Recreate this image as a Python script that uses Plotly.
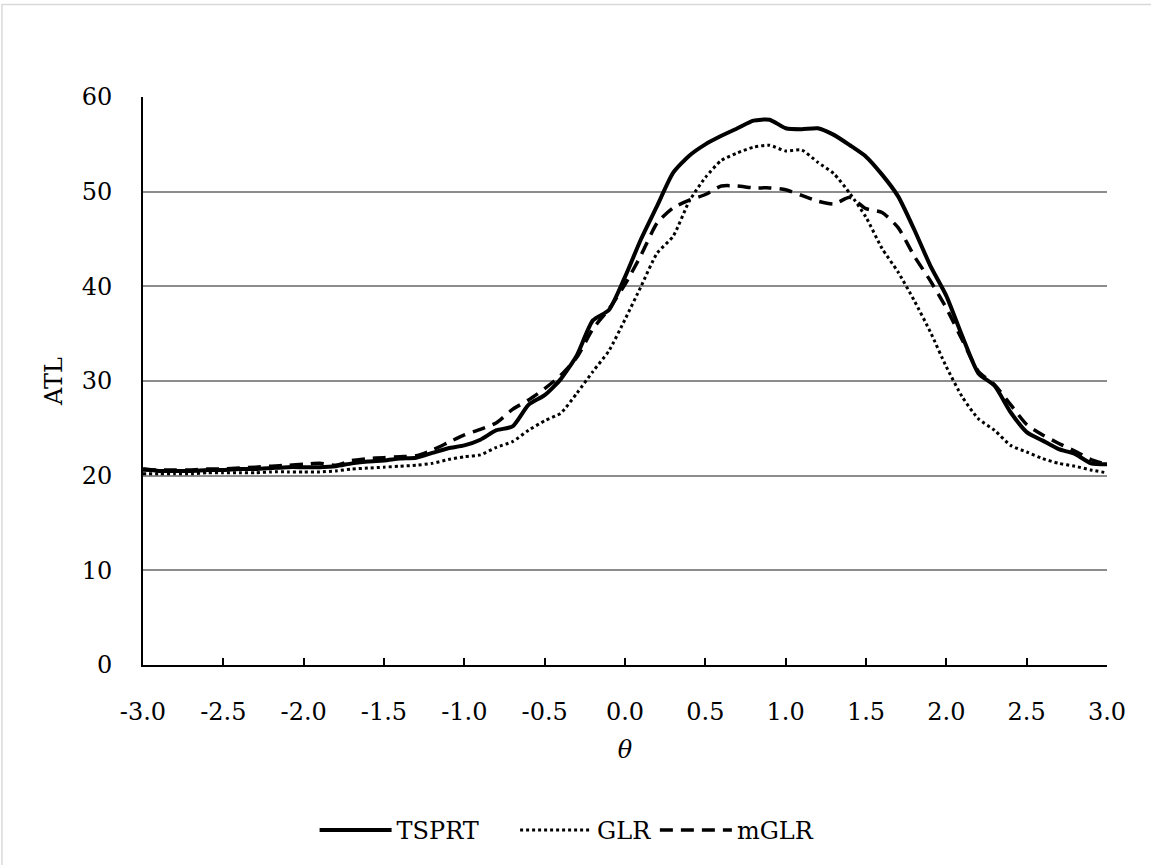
import plotly.graph_objects as go

theta = [round(-3.0 + 0.1 * i, 1) for i in range(61)]

tsprt = [20.7, 20.5, 20.5, 20.5, 20.6, 20.6, 20.7, 20.7, 20.8, 20.9,
         20.9, 20.9, 21.0, 21.3, 21.5, 21.6, 21.8, 21.9, 22.4, 22.9,
         23.2, 23.8, 24.8, 25.2, 27.5, 28.5, 30.2, 32.7, 36.4, 37.5,
         41.0, 45.0, 48.5, 52.0, 53.8, 55.0, 55.9, 56.7, 57.5, 57.6,
         56.7, 56.6, 56.7, 56.0, 54.9, 53.7, 51.8, 49.5, 46.0, 42.2,
         39.0, 34.7, 30.8, 29.5, 26.7, 24.6, 23.7, 22.8, 22.3, 21.3,
         21.2]

glr = [20.2, 20.2, 20.2, 20.2, 20.3, 20.3, 20.3, 20.3, 20.4, 20.4,
       20.4, 20.4, 20.5, 20.7, 20.8, 20.9, 21.0, 21.1, 21.3, 21.7,
       22.0, 22.2, 23.0, 23.6, 24.8, 25.8, 26.6, 28.7, 31.0, 33.2,
       36.5, 40.0, 43.5, 45.3, 49.0, 51.5, 53.3, 54.1, 54.7, 54.9,
       54.3, 54.4, 53.1, 51.9, 49.8, 47.3, 44.0, 41.5, 38.5, 35.2,
       31.5, 28.3, 26.0, 24.8, 23.2, 22.5, 21.8, 21.3, 21.0, 20.6,
       20.3]

mglr = [20.6, 20.6, 20.6, 20.6, 20.7, 20.7, 20.8, 20.9, 21.0, 21.1,
        21.2, 21.3, 21.1, 21.6, 21.8, 21.9, 22.0, 22.1, 22.7, 23.5,
        24.3, 24.9, 25.6, 27.0, 28.0, 29.2, 30.6, 32.5, 35.5, 37.6,
        40.2, 43.3, 46.7, 48.3, 49.1, 49.7, 50.6, 50.6, 50.4, 50.4,
        50.2, 49.6, 49.0, 48.7, 49.4, 48.2, 47.8, 46.2, 43.2, 40.6,
        37.7, 34.3, 31.0, 29.6, 27.5, 25.4, 24.3, 23.4, 22.6, 21.7,
        21.2]

x_ticks = [-3.0, -2.5, -2.0, -1.5, -1.0, -0.5, 0.0, 0.5, 1.0, 1.5, 2.0, 2.5, 3.0]
x_ticklabels = ["-3.0", "-2.5", "-2.0", "-1.5", "-1.0", "-0.5", "0.0",
                "0.5", "1.0", "1.5", "2.0", "2.5", "3.0"]
y_ticks = [0, 10, 20, 30, 40, 50, 60]

FONT = "DejaVu Serif"

fig = go.Figure()
fig.add_trace(go.Scatter(x=theta, y=tsprt, name="TSPRT", mode="lines", legend="legend",
                         line=dict(color="black", width=4, shape="spline", smoothing=0.6)))
fig.add_trace(go.Scatter(x=theta, y=glr, name="GLR", mode="lines", legend="legend2",
                         line=dict(color="black", width=3, dash="dot", shape="spline", smoothing=0.6)))
fig.add_trace(go.Scatter(x=theta, y=mglr, name="mGLR", mode="lines", legend="legend3",
                         line=dict(color="black", width=3.5, dash="13px,8px", shape="spline", smoothing=0.6)))

leg_common = dict(orientation="h", xanchor="left", y=-0.291, yanchor="middle",
                  font=dict(family=FONT, size=24, color="black"), itemwidth=72,
                  bgcolor="rgba(0,0,0,0)")

fig.update_layout(
    width=1151, height=865,
    margin=dict(l=143, r=44, t=97, b=198),
    paper_bgcolor="white", plot_bgcolor="white",
    font=dict(family=FONT, size=24, color="black"),
    showlegend=True,
    legend=dict(x=0.178, **leg_common),
    legend2=dict(x=0.386, **leg_common),
    legend3=dict(x=0.531, **leg_common),
    xaxis=dict(range=[-3.0, 3.0], tickmode="array", tickvals=x_ticks, ticktext=x_ticklabels,
               showline=True, linecolor="black", linewidth=2, mirror=False,
               ticks="inside", ticklen=7, tickwidth=1.5, tickcolor="black",
               ticklabelstandoff=24,
               showgrid=False, zeroline=False,
               title=dict(text="<i>θ</i>", font=dict(family=FONT, size=24), standoff=16)),
    yaxis=dict(range=[0, 60], tickmode="array", tickvals=y_ticks,
               showline=True, linecolor="black", linewidth=2,
               ticks="", ticklabelstandoff=24,
               showgrid=True, gridcolor="#8c8c8c", gridwidth=1.5,
               zeroline=False,
               title=dict(text="ATL", font=dict(family=FONT, size=24), standoff=12)),
    shapes=[dict(type="rect", xref="paper", yref="paper",
                 x0=-0.1463, x1=1.06, y0=-0.36, y1=1.163,
                 line=dict(color="#d9d9d9", width=1.5), fillcolor="rgba(0,0,0,0)",
                 layer="below")],
)

fig.write_html("out.html")
